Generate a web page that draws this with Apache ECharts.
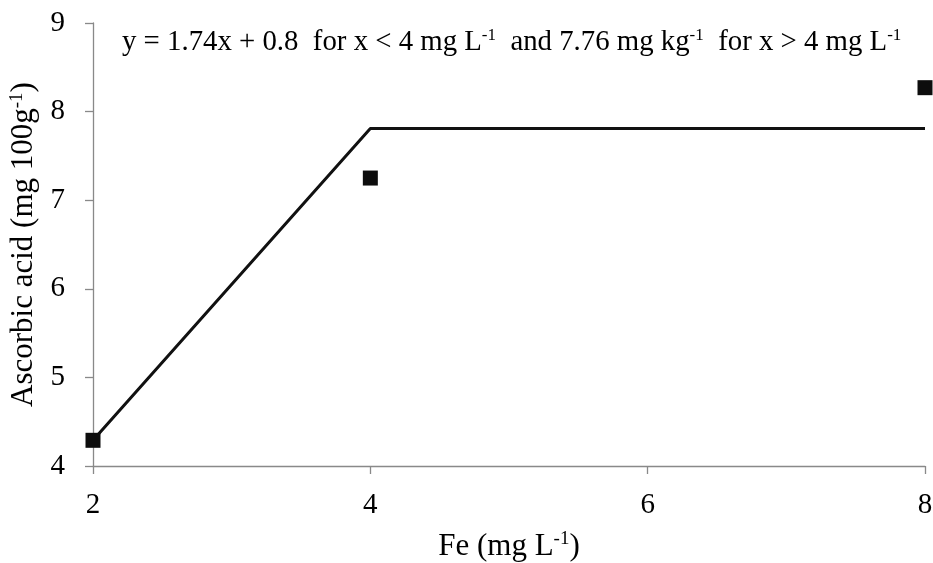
<!DOCTYPE html>
<html>
<head>
<meta charset="utf-8">
<script src="https://cdn.jsdelivr.net/npm/echarts@6/dist/echarts.min.js"></script>
<style>html,body{margin:0;padding:0;background:#fff;}#c{width:933px;height:563px;}</style>
</head>
<body>
<div id="c"></div>
<script>
var xTicks = [2, 4, 6, 8];
var yTicks = [4, 5, 6, 7, 8, 9];
var obsX = [2, 4, 8];
var obsY = [4.29, 7.25, 8.27];
var fitX = [2, 4, 8];
var fitY = [4.29, 7.81, 7.81];

var FONT = '"Liberation Serif", "Times New Roman", serif';
var chart = echarts.init(document.getElementById('c'));
function supStyle(fs, pad){ return {s: {fontFamily: FONT, fontSize: fs, color: '#000', padding: [0,0,pad,0]}}; }
chart.setOption({
  animation: false,
  backgroundColor: '#fff',
  title: {
    text: 'y = 1.74x + 0.8  for x < 4 mg L{s|-1}  and 7.76 mg kg{s|-1}  for x > 4 mg L{s|-1}',
    left: 117, top: 22,
    textStyle: {
      fontFamily: FONT, fontSize: 28.8, fontWeight: 'normal', color: '#000',
      rich: supStyle(17, 13)
    }
  },
  grid: {left: 93, right: 8, top: 23, bottom: 97, outerBoundsMode: 'none', containLabel: false},
  xAxis: {
    type: 'value', min: xTicks[0], max: xTicks[xTicks.length-1], interval: 2,
    name: 'Fe (mg L{s|-1})', nameLocation: 'middle', nameGap: 64,
    nameTextStyle: {fontFamily: FONT, fontSize: 31, color: '#000', rich: supStyle(19, 14)},
    axisLine: {show: true, lineStyle: {color: '#898989', width: 1.3}},
    axisTick: {show: true, length: 8, lineStyle: {color: '#898989', width: 1.3}},
    axisLabel: {fontFamily: FONT, fontSize: 29, color: '#000', margin: 25},
    splitLine: {show: false}
  },
  yAxis: {
    type: 'value', min: yTicks[0], max: yTicks[yTicks.length-1], interval: 1,
    name: 'Ascorbic acid (mg 100g{s|-1})', nameLocation: 'middle', nameGap: 52, nameRotate: 90,
    nameTextStyle: {fontFamily: FONT, fontSize: 31, color: '#000', rich: supStyle(19, 14)},
    axisLine: {show: true, lineStyle: {color: '#898989', width: 1.3}},
    axisTick: {show: true, length: 8, lineStyle: {color: '#898989', width: 1.3}},
    axisLabel: {fontFamily: FONT, fontSize: 29, color: '#000', margin: 28},
    splitLine: {show: false}
  },
  series: [
    {
      type: 'line',
      data: fitX.map(function(x, i){ return [x, fitY[i]]; }),
      showSymbol: false, symbol: 'none',
      lineStyle: {color: '#111', width: 3},
      z: 2
    },
    {
      type: 'scatter',
      data: obsX.map(function(x, i){ return [x, obsY[i]]; }),
      symbol: 'rect', symbolSize: 15,
      itemStyle: {color: '#0d0d0d', opacity: 1},
      z: 3
    }
  ]
});
</script>
</body>
</html>
